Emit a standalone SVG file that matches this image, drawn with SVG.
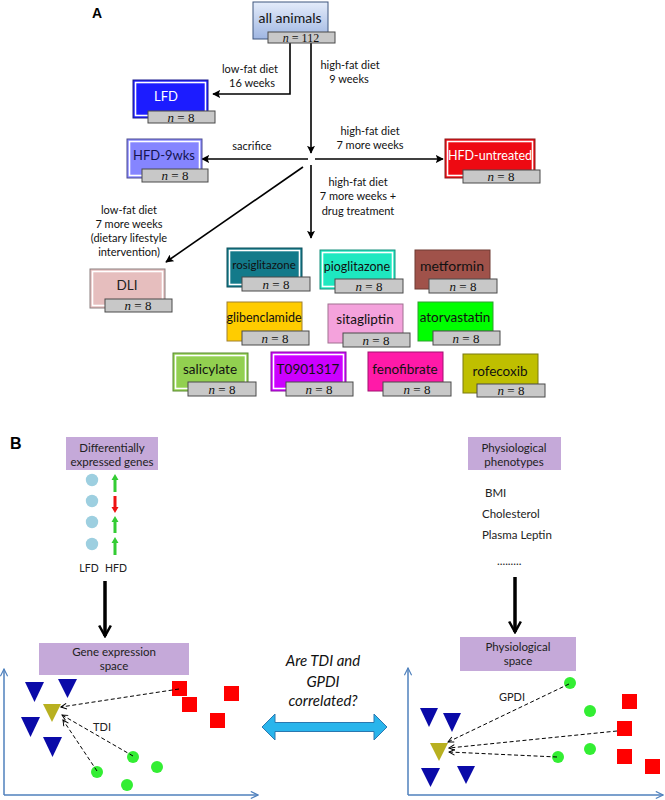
<svg xmlns="http://www.w3.org/2000/svg" width="665" height="800" viewBox="0 0 665 800">
<defs>
<linearGradient id="gAll" x1="0" y1="0" x2="0" y2="1">
<stop offset="0" stop-color="#e4ecfa"/><stop offset="1" stop-color="#9fb6e2"/>
</linearGradient>
<marker id="ah" viewBox="0 0 10 10" refX="9" refY="5" markerWidth="8" markerHeight="8" markerUnits="userSpaceOnUse" orient="auto">
<path d="M0,0 L10,5 L0,10 L2,5 Z" fill="#000"/>
</marker>
<marker id="big" viewBox="0 0 12 12" refX="10" refY="6" markerWidth="14" markerHeight="14" markerUnits="userSpaceOnUse" orient="auto">
<path d="M1,1 L10,6 L1,11" fill="none" stroke="#000" stroke-width="2.2"/>
</marker>
<marker id="dash" viewBox="0 0 10 10" refX="9" refY="5" markerWidth="7" markerHeight="7" markerUnits="userSpaceOnUse" orient="auto">
<path d="M1,1 L9,5 L1,9" fill="none" stroke="#000" stroke-width="1.4"/>
</marker>
<marker id="ax" viewBox="0 0 10 10" refX="9" refY="5" markerWidth="9" markerHeight="9" markerUnits="userSpaceOnUse" orient="auto">
<path d="M1,1 L9,5 L1,9" fill="none" stroke="#4f81bd" stroke-width="1.3"/>
</marker>
</defs>
<style>
text{font-family:Lato,"Open Sans","Liberation Sans",sans-serif;}
.lab{font-size:13px;text-anchor:middle;}
.cap{font-size:11px;text-anchor:middle;fill:#111;}
.nb{fill:#c8c8c8;stroke:#4a4a4a;stroke-width:1;}
.nt{font-family:"Liberation Serif","DejaVu Serif",serif;font-size:13px;text-anchor:middle;fill:#111;}
.inner{fill:none;stroke:#fff;stroke-width:1.6;}
.conn{fill:none;stroke:#000;stroke-width:1.6;}
.thick{fill:none;stroke:#000;stroke-width:3.5;}
.dsh{fill:none;stroke:#000;stroke-width:1;stroke-dasharray:4 2.5;}
.axis{fill:none;stroke:#4f81bd;stroke-width:1.5;}
.pur{fill:#c5a9d9;}
.bt{font-size:11.5px;text-anchor:middle;fill:#222;}
.pl{font-size:11.5px;fill:#222;}
.tri{fill:#0a0aa8;}
.olv{fill:#b8b020;}
.sq{fill:#ff0000;}
.gc{fill:#33ee33;}
.bc{fill:#9dcfe0;}
</style>

<text x="97" y="18" font-size="14" font-weight="bold" text-anchor="middle" style="font-family:'Liberation Sans',Arial,sans-serif">A</text>

<g id="connectors">
<path class="conn" d="M290,43 V94 H213" marker-end="url(#ah)"/>
<path class="conn" d="M311,43 V153" marker-end="url(#ah)"/>
<path class="conn" d="M308,159 H202" marker-end="url(#ah)"/>
<path class="conn" d="M315,159 H443" marker-end="url(#ah)"/>
<path class="conn" d="M311,165 V238" marker-end="url(#ah)"/>
<path class="conn" d="M303,167 L166,262" marker-end="url(#ah)"/>
</g>

<g id="edge-labels">
<text class="cap" x="250" y="73">low-fat diet</text>
<text class="cap" x="252" y="87">16 weeks</text>
<text class="cap" x="350" y="69">high-fat diet</text>
<text class="cap" x="349" y="83">9 weeks</text>
<text class="cap" x="252" y="150">sacrifice</text>
<text class="cap" x="370" y="135">high-fat diet</text>
<text class="cap" x="370" y="149">7 more weeks</text>
<text class="cap" x="358" y="186">high-fat diet</text>
<text class="cap" x="358" y="200">7 more weeks +</text>
<text class="cap" x="358" y="215">drug treatment</text>
<text class="cap" x="129" y="214">low-fat diet</text>
<text class="cap" x="129" y="228">7 more weeks</text>
<text class="cap" x="129" y="242">(dietary lifestyle</text>
<text class="cap" x="129" y="256">intervention)</text>
</g>

<g id="all-animals">
<rect x="253" y="2" width="75" height="37" fill="url(#gAll)" stroke="#3f567e" stroke-width="1"/>
<text class="lab" x="290" y="23" style="font-size:14px" fill="#111">all animals</text>
<rect class="nb" x="268" y="32" width="67" height="11"/>
<text class="nt" x="301" y="41.5" style="font-size:12px"><tspan font-style="italic">n</tspan> = 112</text>
</g>

<g id="LFD">
<rect x="133" y="80" width="75" height="38" fill="#1c1cff" stroke="#1a1a8c" stroke-width="1"/>
<rect class="inner" x="135.5" y="82.5" width="70" height="33"/>
<text class="lab" x="166" y="101" fill="#fff">LFD</text>
<rect class="nb" x="148" y="111" width="67" height="12"/>
<text class="nt" x="181" y="121.5"><tspan font-style="italic">n</tspan> = 8</text>
</g>

<g id="HFD-9wks">
<rect x="127" y="139" width="75" height="39" fill="#8585ff" stroke="#4d4d8f" stroke-width="1"/>
<rect class="inner" x="129.5" y="141.5" width="70" height="34"/>
<text class="lab" x="164" y="160" fill="#141450">HFD-9wks</text>
<rect class="nb" x="142" y="169" width="66" height="13"/>
<text class="nt" x="175" y="180"><tspan font-style="italic">n</tspan> = 8</text>
</g>

<g id="HFD-untreated">
<rect x="445" y="139" width="90" height="39" fill="#ee0a12" stroke="#8c1a1a" stroke-width="1"/>
<rect class="inner" x="447.5" y="141.5" width="85" height="34"/>
<text class="lab" x="490" y="160" fill="#fff" style="font-size:12.5px">HFD-untreated</text>
<rect class="nb" x="463" y="170" width="77" height="13"/>
<text class="nt" x="501" y="181"><tspan font-style="italic">n</tspan> = 8</text>
</g>

<g id="DLI">
<rect x="90" y="269" width="75" height="39" fill="#e6bebe" stroke="#8c8080" stroke-width="1"/>
<rect class="inner" x="92.5" y="271.5" width="70" height="34"/>
<text class="lab" x="127" y="290" fill="#222" style="font-size:13.5px">DLI</text>
<rect class="nb" x="105" y="299" width="67" height="13"/>
<text class="nt" x="138" y="310"><tspan font-style="italic">n</tspan> = 8</text>
</g>

<g id="rosiglitazone">
<rect x="227" y="248" width="75" height="39" fill="#137a8a" stroke="#0d4f5a" stroke-width="1"/>
<rect class="inner" x="229.5" y="250.5" width="70" height="34"/>
<text class="lab" x="264" y="269" style="font-size:11.5px" fill="#111">rosiglitazone</text>
<rect class="nb" x="242" y="277" width="68" height="14"/>
<text class="nt" x="276" y="288.5"><tspan font-style="italic">n</tspan> = 8</text>
</g>

<g id="pioglitazone">
<rect x="320" y="250" width="75" height="39" fill="#1ee8c0" stroke="#16907c" stroke-width="1"/>
<rect class="inner" x="322.5" y="252.5" width="70" height="34"/>
<text class="lab" x="357" y="271" style="font-size:12.5px" fill="#111">pioglitazone</text>
<rect class="nb" x="335" y="279" width="68" height="14"/>
<text class="nt" x="369" y="290.5"><tspan font-style="italic">n</tspan> = 8</text>
</g>

<g id="metformin">
<rect x="415" y="250" width="75" height="39" fill="#a0524a" stroke="#6e3a33" stroke-width="1"/>
<text class="lab" x="452" y="271" fill="#111" style="font-size:14px">metformin</text>
<rect class="nb" x="429" y="279" width="68" height="14"/>
<text class="nt" x="463" y="290.5"><tspan font-style="italic">n</tspan> = 8</text>
</g>

<g id="glibenclamide">
<rect x="227" y="302" width="75" height="39" fill="#ffcc00" stroke="#a08030" stroke-width="1"/>
<text class="lab" x="264" y="322" style="font-size:12.5px" fill="#111">glibenclamide</text>
<rect class="nb" x="242" y="331" width="67" height="14"/>
<text class="nt" x="275" y="342.5"><tspan font-style="italic">n</tspan> = 8</text>
</g>

<g id="sitagliptin">
<rect x="328" y="304" width="75" height="39" fill="#f4a2dc" stroke="#a07090" stroke-width="1"/>
<text class="lab" x="365" y="324" fill="#111" style="font-size:13.5px">sitagliptin</text>
<rect class="nb" x="343" y="333" width="67" height="14"/>
<text class="nt" x="376" y="344.5"><tspan font-style="italic">n</tspan> = 8</text>
</g>

<g id="atorvastatin">
<rect x="418" y="302" width="75" height="39" fill="#00ff00" stroke="#30a030" stroke-width="1"/>
<text class="lab" x="455" y="322" fill="#111" style="font-size:13.5px">atorvastatin</text>
<rect class="nb" x="433" y="331" width="67" height="14"/>
<text class="nt" x="466" y="342.5"><tspan font-style="italic">n</tspan> = 8</text>
</g>

<g id="salicylate">
<rect x="173" y="353" width="75" height="38" fill="#92d050" stroke="#5a8a30" stroke-width="1"/>
<rect class="inner" x="175.5" y="355.5" width="70" height="33"/>
<text class="lab" x="210" y="374" fill="#111" style="font-size:13.5px">salicylate</text>
<rect class="nb" x="188" y="382" width="68" height="14"/>
<text class="nt" x="222" y="393.5"><tspan font-style="italic">n</tspan> = 8</text>
</g>

<g id="T0901317">
<rect x="271" y="352" width="75" height="39" fill="#cc00ff" stroke="#8a10a0" stroke-width="1"/>
<rect class="inner" x="273.5" y="354.5" width="70" height="34"/>
<text class="lab" x="308" y="374" fill="#111" style="font-size:13.5px">T0901317</text>
<rect class="nb" x="286" y="382" width="67" height="14"/>
<text class="nt" x="319" y="393.5"><tspan font-style="italic">n</tspan> = 8</text>
</g>

<g id="fenofibrate">
<rect x="368" y="352" width="75" height="39" fill="#ff1aa8" stroke="#a01070" stroke-width="1"/>
<text class="lab" x="405" y="374" fill="#111" style="font-size:13.5px">fenofibrate</text>
<rect class="nb" x="383" y="382" width="68" height="14"/>
<text class="nt" x="417" y="393.5"><tspan font-style="italic">n</tspan> = 8</text>
</g>

<g id="rofecoxib">
<rect x="463" y="354" width="75" height="39" fill="#bfbf00" stroke="#7a7a10" stroke-width="1"/>
<text class="lab" x="500" y="376" fill="#111" style="font-size:13.5px">rofecoxib</text>
<rect class="nb" x="477" y="384" width="68" height="13"/>
<text class="nt" x="511" y="395"><tspan font-style="italic">n</tspan> = 8</text>
</g>

<!-- Panel B -->
<text x="10" y="449" font-size="16" font-weight="bold" style="font-family:'Liberation Sans',Arial,sans-serif">B</text>

<g id="deg-box">
<rect class="pur" x="66" y="437" width="92" height="33"/>
<text class="bt" x="112" y="452">Differentially</text>
<text class="bt" x="112" y="466">expressed genes</text>
</g>

<g id="gene-list">
<circle class="bc" cx="92" cy="480" r="6.2"/>
<circle class="bc" cx="92" cy="501" r="6.2"/>
<circle class="bc" cx="92" cy="522" r="6.2"/>
<circle class="bc" cx="92" cy="544" r="6.2"/>
<path d="M115,474 L118.5,480 L116.5,480 L116.5,492 L113.5,492 L113.5,480 L111.5,480 Z" fill="#33cc33"/>
<path d="M115,513 L118.5,507 L116.5,507 L116.5,496 L113.5,496 L113.5,507 L111.5,507 Z" fill="#ee1111"/>
<path d="M115,516 L118.5,522 L116.5,522 L116.5,533 L113.5,533 L113.5,522 L111.5,522 Z" fill="#33cc33"/>
<path d="M115,537 L118.5,543 L116.5,543 L116.5,555 L113.5,555 L113.5,543 L111.5,543 Z" fill="#33cc33"/>
<text x="89" y="572" font-size="10.5" text-anchor="middle" fill="#222">LFD</text>
<text x="116" y="572" font-size="10.5" text-anchor="middle" fill="#222">HFD</text>
</g>

<g id="phys-box">
<rect class="pur" x="468" y="437" width="93" height="33"/>
<text class="bt" x="514" y="452">Physiological</text>
<text class="bt" x="514" y="466">phenotypes</text>
</g>

<g id="phys-list">
<text class="pl" x="485" y="497">BMI</text>
<text class="pl" x="482" y="518">Cholesterol</text>
<text class="pl" x="482" y="539">Plasma Leptin</text>
<text class="pl" x="497" y="565">.........</text>
</g>

<g id="flow-arrows">
<path class="thick" d="M105,581 V636" marker-end="url(#big)"/>
<path class="thick" d="M515,577 V632" marker-end="url(#big)"/>
</g>

<g id="gene-space-box">
<rect class="pur" x="39" y="643" width="150" height="32"/>
<text class="bt" x="114" y="656">Gene expression</text>
<text class="bt" x="114" y="670">space</text>
</g>

<g id="phys-space-box">
<rect class="pur" x="460" y="637" width="116" height="34"/>
<text class="bt" x="518" y="651">Physiological</text>
<text class="bt" x="518" y="665">space</text>
</g>

<g id="gene-plot">
<path class="axis" d="M4,795 V669" marker-end="url(#ax)"/>
<path class="axis" d="M4,795 H258" marker-end="url(#ax)"/>
<polygon class="tri" points="25,682 44,682 34.5,702"/>
<polygon class="tri" points="58,679 77,679 67.5,698"/>
<polygon class="tri" points="21,717 40,717 30.5,737"/>
<polygon class="tri" points="43,737 62,737 52.5,757"/>
<polygon class="olv" points="43,704 61,704 52,722"/>
<rect class="sq" x="172" y="681" width="15" height="15"/>
<rect class="sq" x="182" y="697" width="15" height="15"/>
<rect class="sq" x="224" y="686" width="15" height="15"/>
<rect class="sq" x="210" y="713" width="15" height="15"/>
<circle class="gc" cx="133" cy="757" r="6"/>
<circle class="gc" cx="97" cy="772" r="6"/>
<circle class="gc" cx="157" cy="767" r="6"/>
<circle class="gc" cx="127" cy="785" r="6"/>
<path class="dsh" d="M179,689 L61,707" marker-end="url(#dash)"/>
<path class="dsh" d="M133,756 L62,715" marker-end="url(#dash)"/>
<path class="dsh" d="M97,771 L63,720" marker-end="url(#dash)"/>
<text x="102" y="731" font-size="11" text-anchor="middle" fill="#222">TDI</text>
</g>

<g id="question">
<text x="323" y="666" font-size="15" font-style="italic" text-anchor="middle" fill="#111">Are TDI and</text>
<text x="323" y="687" font-size="15" font-style="italic" text-anchor="middle" fill="#111">GPDI</text>
<text x="323" y="706" font-size="15" font-style="italic" text-anchor="middle" fill="#111">correlated?</text>
<path d="M262,727 L275,714 L275,722.5 L374,722.5 L374,714 L387,727 L374,740 L374,731.5 L275,731.5 L275,740 Z" fill="#29b5ec" stroke="#2a78b0" stroke-width="1"/>
</g>

<g id="phys-plot">
<path class="axis" d="M408,795 V668" marker-end="url(#ax)"/>
<path class="axis" d="M408,795 H663" marker-end="url(#ax)"/>
<polygon class="tri" points="420,708 438,708 429,727"/>
<polygon class="tri" points="443,713 461,713 452,732"/>
<polygon class="tri" points="421,768 440,768 430.5,787"/>
<polygon class="tri" points="457,766 475,766 466,784"/>
<polygon class="olv" points="430,743 448,743 439,761"/>
<circle class="gc" cx="570" cy="683" r="6"/>
<circle class="gc" cx="590" cy="711" r="6"/>
<circle class="gc" cx="558" cy="757" r="6"/>
<circle class="gc" cx="590" cy="749" r="6"/>
<rect class="sq" x="622" y="694" width="15" height="15"/>
<rect class="sq" x="617" y="721" width="15" height="15"/>
<rect class="sq" x="617" y="749" width="15" height="15"/>
<rect class="sq" x="645" y="759" width="15" height="15"/>
<path class="dsh" d="M569,684 L448,742" marker-end="url(#dash)"/>
<path class="dsh" d="M617,731 L449,748" marker-end="url(#dash)"/>
<path class="dsh" d="M557,757 L449,752" marker-end="url(#dash)"/>
<text x="512" y="701" font-size="11" text-anchor="middle" fill="#222">GPDI</text>
</g>
</svg>
